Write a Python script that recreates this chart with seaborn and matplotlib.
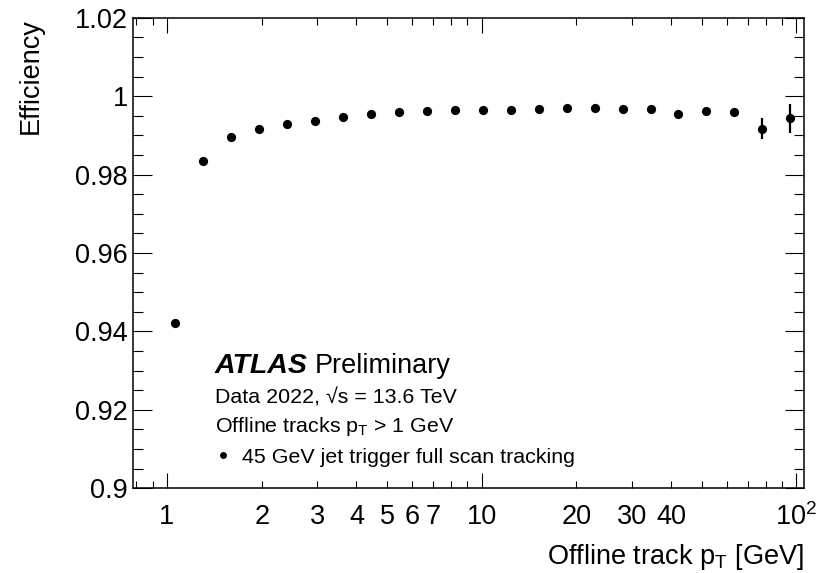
import numpy as np
import pandas as pd
import seaborn as sns
import matplotlib
matplotlib.use("Agg")
import matplotlib.pyplot as plt
from matplotlib.ticker import FixedLocator, FuncFormatter, MultipleLocator

# ---- data ----
pt = [1.058, 1.304, 1.594, 1.961, 2.406, 2.953, 3.617, 4.439, 5.449, 6.703,
      8.227, 10.07, 12.37, 15.18, 18.63, 22.87, 28.06, 34.44, 42.15, 51.72,
      63.48, 77.94, 95.6]
eff = [0.9422, 0.9835, 0.9896, 0.9915, 0.9929, 0.9937, 0.9946, 0.99545,
       0.9960, 0.9962, 0.9964, 0.9965, 0.9965, 0.9967, 0.9970, 0.9970,
       0.9967, 0.9967, 0.9954, 0.9962, 0.9960, 0.9917, 0.9944]
err = [0.0002, 0.0001, 0.0001, 0.0001, 0.0001, 0.0001, 0.0001, 0.0001,
       0.0001, 0.0001, 0.0001, 0.0001, 0.0001, 0.0002, 0.0002, 0.0002,
       0.0003, 0.0003, 0.0004, 0.0005, 0.0006, 0.0026, 0.0037]
major_x = [1, 10, 100]
major_x_labels = ["1", "10", "$10^{2}$"]
minor_x = [0.8, 0.9, 2, 3, 4, 5, 6, 7, 8, 9, 20, 30, 40, 50, 60, 70, 80, 90]
labelled_minor = {2: "2", 3: "3", 4: "4", 5: "5", 6: "6", 7: "7",
                  20: "20", 30: "30", 40: "40"}
series_label = "45 GeV jet trigger full scan tracking"

df = pd.DataFrame({"pt": pt, "eff": eff, "err": err})

sns.set_theme(style="ticks")
plt.rcParams["font.family"] = ["Liberation Sans", "DejaVu Sans"]
plt.rcParams["mathtext.fontset"] = "custom"
plt.rcParams["mathtext.rm"] = "Liberation Sans"
plt.rcParams["mathtext.it"] = "Liberation Sans:italic"
plt.rcParams["mathtext.bf"] = "Liberation Sans:bold"
plt.rcParams["axes.linewidth"] = 1.1
plt.rcParams["axes.edgecolor"] = "black"
plt.rcParams["text.color"] = "black"
plt.rcParams["axes.labelcolor"] = "black"

fig = plt.figure(figsize=(8.16, 5.73), dpi=100)
ax = fig.add_axes([0.1626, 0.1478, 0.9853 - 0.1626, 0.9691 - 0.1478])

ax.errorbar(df["pt"], df["eff"], yerr=df["err"], fmt="none", ecolor="black",
            elinewidth=1.6, capsize=0, zorder=2)
sns.scatterplot(data=df, x="pt", y="eff", ax=ax, color="black", s=44,
                linewidth=0, label=series_label, zorder=3)

ax.set_xscale("log")
ax.set_xlim(0.778, 105.7)
ax.set_ylim(0.9, 1.02)

ax.xaxis.set_major_locator(FixedLocator(major_x))
ax.xaxis.set_major_formatter(FuncFormatter(
    lambda v, p: major_x_labels[major_x.index(round(v))] if round(v) in major_x else ""))
ax.xaxis.set_minor_locator(FixedLocator(minor_x))
ax.xaxis.set_minor_formatter(FuncFormatter(
    lambda v, p: labelled_minor.get(round(v), "") if v >= 1.5 else ""))

ax.yaxis.set_major_locator(MultipleLocator(0.02))
ax.yaxis.set_minor_locator(MultipleLocator(0.005))
ax.yaxis.set_major_formatter(FuncFormatter(lambda v, p: f"{v:g}"))

ax.tick_params(axis="both", which="both", direction="in", top=True, right=True,
               color="black", width=0.8, labelsize=19.5, labelcolor="black")
ax.tick_params(axis="x", which="major", length=10.5, pad=11)
ax.tick_params(axis="x", which="minor", length=5, pad=11)
ax.tick_params(axis="y", which="major", length=13.7, pad=3.5)
ax.tick_params(axis="y", which="minor", length=7)

ax.set_xlabel("Offline track p$_{\\mathrm{T}}$ [GeV]", fontsize=19.5, loc="right")
ax.xaxis.set_label_coords(1.0, -0.114)
ax.set_ylabel("Efficiency", fontsize=19.5, loc="top")
ax.yaxis.set_label_coords(-0.132, 1.0)

ax.text(0.1226, 0.2444, "ATLAS", transform=ax.transAxes, fontsize=20.5,
        fontweight="bold", fontstyle="italic", va="baseline", ha="left")
ax.text(0.2716, 0.2444, "Preliminary", transform=ax.transAxes, fontsize=19.5,
        va="baseline", ha="left")
ax.text(0.1226, 0.1806, "Data 2022, √s = 13.6 TeV", transform=ax.transAxes,
        fontsize=15.4, va="baseline", ha="left")
ax.text(0.1226, 0.1203, "Offline tracks p$_{\\mathrm{T}}$ > 1 GeV",
        transform=ax.transAxes, fontsize=15.4, va="baseline", ha="left")

ax.legend(loc="center left", bbox_to_anchor=(0.1221, 0.0665), frameon=False,
          borderpad=0, borderaxespad=0, handlelength=0.8, handletextpad=0.465,
          fontsize=15.4, markerscale=0.75, scatterpoints=1, scatteryoffsets=[0.5])

fig.savefig("out.png", dpi=100)
